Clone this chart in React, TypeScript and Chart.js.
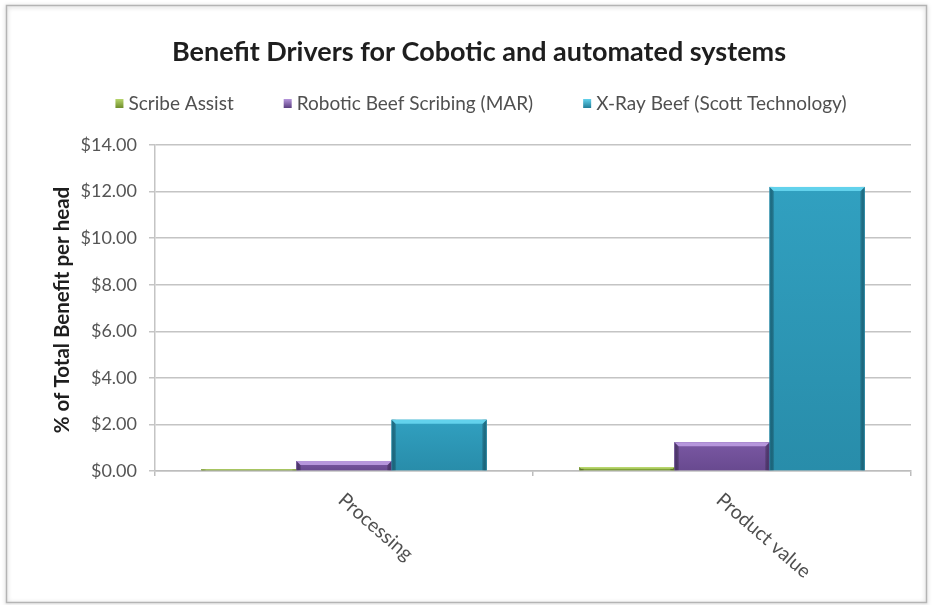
import React, { useEffect, useRef } from "react";
import { Chart, registerables } from "chart.js";

Chart.register(...registerables);

const TITLE = "Benefit Drivers for Cobotic and automated systems";
const Y_TITLE = "% of Total Benefit per head";
const categories = ["Processing", "Product value"];
const seriesNames = ["Scribe Assist", "Robotic Beef Scribing (MAR)", "X-Ray Beef (Scott Technology)"];
const scribeAssist = [0.08, 0.17];
const roboticScribing = [0.43, 1.24];
const xRayBeef = [2.2, 12.2];
const yTicks = [0, 2, 4, 6, 8, 10, 12, 14];

// base, highlight and shade colours for each series
const palette = [
  { base: "#8db040", light: "#b7d66c", dark: "#6f8d2c" },
  { base: "#7a58a3", light: "#b696dc", dark: "#5a3e80" },
  { base: "#31a0c0", light: "#62d2ec", dark: "#217d98" },
];

const FONT = "Lato, 'Open Sans', sans-serif";

const W = 935;
const H = 605;

const decorPlugin = {
  id: "decor",
  beforeDraw(chart: any) {
    const { ctx } = chart;
    ctx.save();
    ctx.fillStyle = "#ffffff";
    ctx.fillRect(0, 0, W, H);
    // outer frame with a soft shadow
    ctx.shadowColor = "rgba(0,0,0,0.25)";
    ctx.shadowBlur = 4;
    ctx.shadowOffsetX = 0;
    ctx.shadowOffsetY = 1;
    ctx.strokeStyle = "#b4b4b4";
    ctx.lineWidth = 1.5;
    ctx.strokeRect(6.5, 5.5, 920, 597);
    ctx.restore();
  },
  afterDatasetsDraw(chart: any) {
    const { ctx } = chart;
    chart.data.datasets.forEach((ds: any, di: number) => {
      const meta = chart.getDatasetMeta(di);
      const c = palette[di];
      meta.data.forEach((bar: any) => {
        const left = bar.x - bar.width / 2;
        const right = bar.x + bar.width / 2;
        const top = Math.min(bar.y, bar.base);
        const bottom = Math.max(bar.y, bar.base);
        const h = bottom - top;
        if (h <= 0) return;
        ctx.save();
        const g = ctx.createLinearGradient(0, top, 0, bottom);
        g.addColorStop(0, c.base);
        g.addColorStop(1, c.dark);
        ctx.globalAlpha = 0.55;
        ctx.fillStyle = g;
        ctx.fillRect(left, top, right - left, h);
        ctx.globalAlpha = 1;
        // side shading
        const e = Math.min(4, h / 2);
        const sg = ctx.createLinearGradient(left, 0, left + 5, 0);
        sg.addColorStop(0, c.dark);
        sg.addColorStop(1, "rgba(0,0,0,0)");
        ctx.fillStyle = sg;
        ctx.fillRect(left, top, 5, h);
        const rg = ctx.createLinearGradient(right - 5, 0, right, 0);
        rg.addColorStop(0, "rgba(0,0,0,0)");
        rg.addColorStop(1, c.dark);
        ctx.fillStyle = rg;
        ctx.fillRect(right - 5, top, 5, h);
        // bevelled top edge
        ctx.fillStyle = c.light;
        ctx.beginPath();
        ctx.moveTo(left, top);
        ctx.lineTo(right, top);
        ctx.lineTo(right - e, top + e);
        ctx.lineTo(left + e, top + e);
        ctx.closePath();
        ctx.fill();
        ctx.restore();
      });
    });
  },
  afterDraw(chart: any) {
    const { ctx } = chart;
    const xScale = chart.scales.x;
    ctx.save();
    // title
    ctx.fillStyle = "#1e1e1e";
    ctx.font = `bold 27px ${FONT}`;
    ctx.textAlign = "center";
    ctx.textBaseline = "middle";
    ctx.fillText(TITLE, 479, 52);

    // legend
    ctx.font = `19px ${FONT}`;
    const gap = 50;
    const box = 8;
    const widths = chart.data.datasets.map((d: any) => box + 5 + ctx.measureText(d.label).width);
    const total = widths.reduce((a: number, b: number) => a + b, 0) + gap * (widths.length - 1);
    let lx = 481 - total / 2;
    chart.data.datasets.forEach((d: any, i: number) => {
      const c = palette[i];
      const g = ctx.createLinearGradient(0, 99, 0, 108);
      g.addColorStop(0, c.light);
      g.addColorStop(1, c.dark);
      ctx.fillStyle = g;
      ctx.fillRect(lx, 99, box, 9);
      ctx.fillStyle = "#505050";
      ctx.textAlign = "left";
      ctx.fillText(d.label, lx + box + 5, 104);
      lx += widths[i] + gap;
    });

    // y-axis title
    ctx.save();
    ctx.translate(62, 310);
    ctx.rotate(-Math.PI / 2);
    ctx.fillStyle = "#1e1e1e";
    ctx.font = `bold 20.5px ${FONT}`;
    ctx.textAlign = "center";
    ctx.fillText(Y_TITLE, 0, 0);
    ctx.restore();

    // slanted category labels
    ctx.font = `19.5px ${FONT}`;
    ctx.fillStyle = "#505050";
    ctx.textAlign = "left";
    categories.forEach((cat, i) => {
      const cx = xScale.getPixelForValue(i);
      ctx.save();
      ctx.translate(cx - 3, 497);
      ctx.rotate((41 * Math.PI) / 180);
      ctx.fillText(cat, 0, 0);
      ctx.restore();
    });
    ctx.restore();
  },
};

export default function App() {
  const ref = useRef<HTMLCanvasElement | null>(null);

  useEffect(() => {
    if (!ref.current) return;
    const series = [scribeAssist, roboticScribing, xRayBeef];
    const chart = new Chart(ref.current, {
      type: "bar",
      data: {
        labels: categories,
        datasets: series.map((values, i) => ({
          label: seriesNames[i],
          data: values,
          backgroundColor: palette[i].base,
          borderWidth: 0,
          categoryPercentage: 0.755,
          barPercentage: 1,
        })),
      },
      options: {
        responsive: false,
        animation: false,
        devicePixelRatio: 1,
        layout: { padding: { left: 0, top: 145, right: 24, bottom: 129 } },
        plugins: {
          legend: { display: false },
          title: { display: false },
          tooltip: { enabled: false },
        },
        scales: {
          x: {
            ticks: { display: false },
            grid: {
              offset: true,
              drawOnChartArea: false,
              drawTicks: true,
              tickLength: 5,
              color: "#bdbdbd",
              lineWidth: 1.5,
            },
            border: { color: "#bdbdbd", width: 1.5 },
            afterFit(scale: any) {
              scale.height = 5;
            },
          },
          y: {
            min: 0,
            max: 14,
            afterBuildTicks(scale: any) {
              scale.ticks = yTicks.map((v) => ({ value: v }));
            },
            ticks: {
              color: "#555555",
              font: { family: FONT, size: 18 },
              padding: 12,
              callback: (v: any) => "$" + Number(v).toFixed(2),
            },
            grid: {
              color: "#c4c4c4",
              lineWidth: 1.5,
              tickLength: 6,
            },
            border: { color: "#c4c4c4", width: 1.5 },
            afterFit(scale: any) {
              scale.width = 155;
            },
          },
        },
      },
      plugins: [decorPlugin],
    });
    return () => chart.destroy();
  }, []);

  return (
    <div style={{ position: "fixed", left: 0, top: 0, width: W, height: H, background: "#fff" }}>
      <canvas ref={ref} width={W} height={H} style={{ display: "block" }} />
    </div>
  );
}
